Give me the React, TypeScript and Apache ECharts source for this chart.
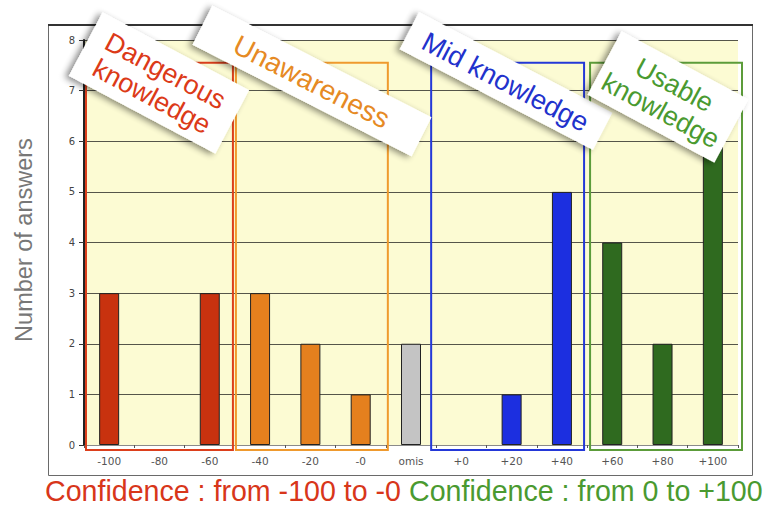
import React, { useEffect, useRef } from "react";
import * as echarts from "echarts";

const categories = ["-100", "-80", "-60", "-40", "-20", "-0", "omis", "+0", "+20", "+40", "+60", "+80", "+100"];
const answers = [3, 0, 3, 3, 2, 1, 2, 0, 1, 5, 4, 2, 6];
const groupOf = ["danger", "danger", "danger", "unaware", "unaware", "unaware", "omis", "mid", "mid", "mid", "usable", "usable", "usable"];
const yTicks = [0, 1, 2, 3, 4, 5, 6, 7, 8];

const groups = [
  { key: "danger", first: "-100", last: "-60", label: "Dangerous\nknowledge" },
  { key: "unaware", first: "-40", last: "-0", label: "Unawareness" },
  { key: "mid", first: "+0", last: "+40", label: "Mid knowledge" },
  { key: "usable", first: "+60", last: "+100", label: "Usable\nknowledge" },
];

const barColor: Record<string, string> = {
  danger: "#c8320f",
  unaware: "#e5801e",
  omis: "#c4c4c4",
  mid: "#1c2fe0",
  usable: "#2f6a1f",
};
const boxColor: Record<string, string> = {
  danger: "#dc3f1c",
  unaware: "#ef9a2e",
  mid: "#2438d8",
  usable: "#5c9c3a",
};
const textColor: Record<string, string> = {
  danger: "#dc3a18",
  unaware: "#e68a24",
  mid: "#2232cc",
  usable: "#4a9a30",
};
const boxInset: Record<string, [number, number]> = {
  danger: [2, -2],
  unaware: [1, 2],
  mid: [-5, -3],
  usable: [3, 4],
};
// label cards: center, size, rotation (deg, clockwise), font size
const labelBox: Record<string, { cx: number; cy: number; w: number; h: number; a: number; fs: number }> = {
  danger: { cx: 159, cy: 83, w: 166, h: 72, a: 28, fs: 27 },
  unaware: { cx: 312, cy: 81, w: 246, h: 44, a: 27, fs: 28 },
  mid: { cx: 506, cy: 81, w: 218, h: 42, a: 27.5, fs: 27.5 },
  usable: { cx: 668, cy: 97, w: 144, h: 72, a: 28.2, fs: 27 },
};

const SANS = "'Liberation Sans', Arial, sans-serif";
const TICKFONT = "'DejaVu Sans', Verdana, sans-serif";

export default function App() {
  const ref = useRef<HTMLDivElement>(null);
  useEffect(() => {
    if (!ref.current) return;
    const chart = echarts.init(ref.current, null, { renderer: "svg" });
    const option: any = {
      animation: false,
      backgroundColor: "#ffffff",
      grid: {
        left: 84,
        right: 29,
        top: 40,
        bottom: 61,
        show: true,
        backgroundColor: "#fcfbd3",
        borderWidth: 0,
      },
      xAxis: {
        type: "category",
        data: categories,
        axisLine: { show: true, lineStyle: { color: "#8a8a8a", width: 1 } },
        axisTick: { show: true, length: 3, lineStyle: { color: "#555" } },
        axisLabel: { color: "#555", fontSize: 10.5, fontFamily: TICKFONT, margin: 10 },
        splitLine: { show: false },
      },
      yAxis: {
        type: "value",
        min: yTicks[0],
        max: yTicks[yTicks.length - 1],
        interval: 1,
        axisLine: { show: true, lineStyle: { color: "#222", width: 2 } },
        axisTick: { show: true, length: 5, lineStyle: { color: "#333" } },
        axisLabel: { color: "#444", fontSize: 10, fontFamily: TICKFONT, margin: 9 },
        splitLine: { show: true, lineStyle: { color: "#55554a", width: 1 } },
      },
      series: [
        {
          type: "bar",
          barWidth: 20,
          data: answers.map((v, i) => ({
            value: v,
            itemStyle: {
              color: barColor[groupOf[i]],
              borderColor: v > 0 ? "#222" : "transparent",
              borderWidth: 1,
            },
          })),
        },
      ],
    };
    chart.setOption(option);

    const x0 = chart.convertToPixel({ gridIndex: 0 }, [categories[0], 0]) as number[];
    const x1 = chart.convertToPixel({ gridIndex: 0 }, [categories[1], 0]) as number[];
    const band = x1[0] - x0[0];
    const yZero = x0[1];
    const yTop = (chart.convertToPixel({ gridIndex: 0 }, [categories[0], 7.55]) as number[])[1];

    const graphics: any[] = [];
    graphics.push({
      type: "rect",
      shape: { x: 48.5, y: 25.5, width: 704, height: 450 },
      style: { fill: "none", stroke: "#6a6a6a", lineWidth: 1 },
      z: 100,
    });
    graphics.push({
      type: "line",
      shape: { x1: 48, y1: 25, x2: 753, y2: 25 },
      style: { stroke: "#333", lineWidth: 2 },
      z: 100,
    });
    graphics.push({
      type: "text",
      x: 24,
      y: 240,
      rotation: Math.PI / 2,
      style: {
        text: "Number of answers",
        fill: "#777",
        fontSize: 23.5,
        fontFamily: SANS,
        align: "center",
        verticalAlign: "middle",
      },
      z: 100,
    });
    groups.forEach((g) => {
      const a = chart.convertToPixel({ gridIndex: 0 }, [g.first, 0]) as number[];
      const b = chart.convertToPixel({ gridIndex: 0 }, [g.last, 0]) as number[];
      const [il, ir] = boxInset[g.key];
      const left = a[0] - band / 2 + il;
      const right = b[0] + band / 2 + ir;
      graphics.push({
        type: "rect",
        shape: { x: left, y: yTop, width: right - left, height: yZero + 5 - yTop },
        style: { fill: "none", stroke: boxColor[g.key], lineWidth: 2 },
        z: 110,
      });
    });
    const order = ["unaware", "danger", "mid", "usable"];
    order.forEach((k, idx) => {
      const g = groups.find((gg) => gg.key === k)!;
      const lb = labelBox[k];
      graphics.push({
        type: "group",
        x: lb.cx,
        y: lb.cy,
        rotation: (-lb.a * Math.PI) / 180,
        z: 120 + idx,
        children: [
          {
            type: "rect",
            shape: { x: -lb.w / 2, y: -lb.h / 2, width: lb.w, height: lb.h },
            style: {
              fill: "#ffffff",
              shadowBlur: 6,
              shadowColor: "rgba(0,0,0,0.45)",
              shadowOffsetX: -3,
              shadowOffsetY: 3,
            },
            z: 120 + idx,
          },
          {
            type: "text",
            x: 0,
            y: 1,
            style: {
              text: g.label,
              fill: textColor[k],
              fontSize: lb.fs,
              lineHeight: lb.fs + 2,
              fontFamily: SANS,
              align: "center",
              verticalAlign: "middle",
            },
            z: 121 + idx,
          },
        ],
      });
    });
    graphics.push({
      type: "text",
      x: 45,
      y: 491,
      style: {
        text: "Confidence : from -100 to -0",
        fill: "#d8361a",
        fontSize: 28.6,
        fontFamily: SANS,
        align: "left",
        verticalAlign: "middle",
      },
      z: 100,
    });
    graphics.push({
      type: "text",
      x: 409,
      y: 491,
      style: {
        text: "Confidence : from 0 to +100",
        fill: "#4a9a30",
        fontSize: 28.6,
        fontFamily: SANS,
        align: "left",
        verticalAlign: "middle",
      },
      z: 100,
    });
    chart.setOption({ graphic: graphics });

    return () => chart.dispose();
  }, []);
  return (
    <div
      ref={ref}
      style={{ position: "fixed", left: 0, top: 0, width: 767, height: 506 }}
    />
  );
}
